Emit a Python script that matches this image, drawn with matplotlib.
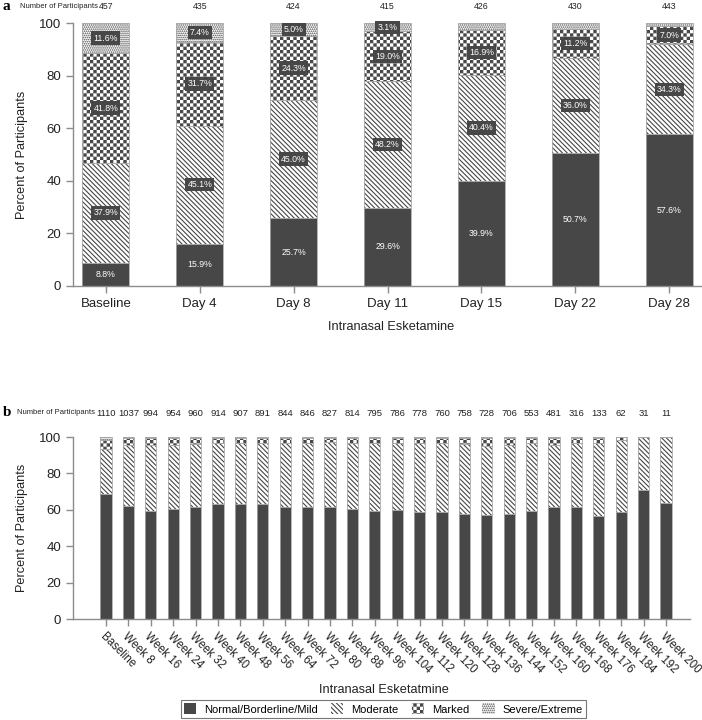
#!/usr/bin/env python3
import matplotlib
matplotlib.use("Agg")
import matplotlib.hatch as mhatch
import matplotlib.pyplot as plt
from matplotlib.patches import Patch
from matplotlib.path import Path
from matplotlib.transforms import blended_transform_factory

plt.rcParams["font.family"] = ["Liberation Sans", "DejaVu Sans"]
plt.rcParams["hatch.linewidth"] = 0.8

DARK = "#474747"
EDGE = "#a8a8a8"
AXIS = "#8c8c8c"
TXT = "#222222"

# ---- panel a: first 28 days ----
visits_a = ["Baseline", "Day 4", "Day 8", "Day 11", "Day 15", "Day 22", "Day 28"]
n_a = [457, 435, 424, 415, 426, 430, 443]
normal_a = [8.8, 15.9, 25.7, 29.6, 39.9, 50.7, 57.6]
moderate_a = [37.9, 45.1, 45.0, 48.2, 40.4, 36.0, 34.3]
marked_a = [41.8, 31.7, 24.3, 19.0, 16.9, 11.2, 7.0]
severe_a = [11.6, 7.4, 5.0, 3.1, 2.8, 2.1, 1.1]

# ---- panel b: long term ----
visits_b = ["Baseline"] + [f"Week {w}" for w in range(8, 201, 8)]
n_b = [1110, 1037, 994, 954, 960, 914, 907, 891, 844, 846, 827, 814, 795,
       786, 778, 760, 758, 728, 706, 553, 481, 316, 133, 62, 31, 11]
normal_b = [68.8, 62.3, 59.3, 60.4, 61.5, 63.4, 63.4, 63.0, 61.4, 61.5, 61.8,
            60.6, 59.3, 60.1, 58.9, 58.9, 57.7, 57.3, 58.0, 59.3, 61.4, 61.8,
            56.9, 58.6, 71.2, 63.8]
moderate_b = [24.5, 33.5, 36.1, 35.2, 34.6, 33.3, 33.3, 33.5, 35.1, 35.5, 35.6,
              36.4, 37.2, 36.6, 37.8, 37.8, 38.4, 37.8, 37.4, 37.4, 34.2, 35.2,
              40.1, 39.8, 28.8, 36.2]
marked_b = [5.3, 3.6, 3.8, 3.7, 3.3, 2.8, 2.9, 2.9, 3.0, 2.6, 2.1, 2.6, 3.0,
            2.9, 2.9, 2.8, 3.5, 4.3, 4.0, 2.8, 3.8, 2.4, 2.2, 1.6, 0.0, 0.0]
severe_b = [1.4, 0.6, 0.8, 0.7, 0.6, 0.5, 0.4, 0.6, 0.5, 0.4, 0.5, 0.4, 0.5,
            0.4, 0.4, 0.5, 0.4, 0.6, 0.6, 0.5, 0.6, 0.6, 0.8, 0.0, 0.0, 0.0]

categories = ["Normal/Borderline/Mild", "Moderate", "Marked", "Severe/Extreme"]


class CheckerHatch(mhatch.HatchPatternBase):
    """Checkerboard hatch, used for the 'o' character."""

    def __init__(self, hatch, density):
        self.num_cells = hatch.count("o") * 6
        self.num_vertices = (self.num_cells ** 2 // 2) * 5

    def set_vertices_and_codes(self, vertices, codes):
        n = self.num_cells
        s = 1.0 / n
        shrink = plt.rcParams["hatch.linewidth"] / 72.0 / 2.0
        k = 0
        for r in range(n):
            for c in range(n):
                if (r + c) % 2:
                    continue
                x0, y0 = c * s + shrink, r * s + shrink
                x1, y1 = (c + 1) * s - shrink, (r + 1) * s - shrink
                vertices[k:k + 5] = [(x0, y0), (x1, y0), (x1, y1), (x0, y1), (x0, y0)]
                codes[k:k + 5] = [Path.MOVETO, Path.LINETO, Path.LINETO,
                                  Path.LINETO, Path.CLOSEPOLY]
                k += 5


mhatch._hatch_types = [t for t in mhatch._hatch_types
                       if t is not mhatch.SmallCircles] + [CheckerHatch]

styles = [
    dict(facecolor=DARK, edgecolor=DARK, hatch=None),
    dict(facecolor="white", edgecolor=DARK, hatch="\\" * 7),
    dict(facecolor="white", edgecolor=DARK, hatch="o" * 5),
    dict(facecolor="white", edgecolor="#4a4a4a", hatch="." * 8),
]


def draw_stack(ax, series, width):
    x = list(range(len(series[0])))
    bottom = [0.0] * len(x)
    for vals, st in zip(series, styles):
        ax.bar(x, vals, width, bottom=bottom, facecolor=st["facecolor"],
               edgecolor=st["edgecolor"], hatch=st["hatch"], linewidth=0)
        ax.bar(x, vals, width, bottom=bottom, fill=False, edgecolor=EDGE,
               linewidth=0.6)
        bottom = [b + v for b, v in zip(bottom, vals)]
    return x


def style_axes(ax):
    for side in ("top", "right"):
        ax.spines[side].set_visible(False)
    for side in ("left", "bottom"):
        ax.spines[side].set_color(AXIS)
        ax.spines[side].set_linewidth(1.0)
    ax.tick_params(colors=AXIS, labelcolor=TXT, length=5, width=1.0)
    ax.set_ylim(0, 100)
    ax.set_yticks([0, 20, 40, 60, 80, 100])
    ax.tick_params(axis="y", labelsize=9.5)


fig = plt.figure(figsize=(7.02, 7.2), dpi=100)

# panel a
ax_a = fig.add_axes([0.104, 0.603, 0.896, 0.365])
series_a = [normal_a, moderate_a, marked_a, severe_a]
xa = draw_stack(ax_a, series_a, 0.5)
style_axes(ax_a)
ax_a.set_xlim(-0.35, 6.35)
ax_a.set_xticks(xa)
ax_a.set_xticklabels(visits_a, fontsize=9.5)
ax_a.tick_params(axis="x", pad=4)

for i in xa:
    base = 0.0
    for k, vals in enumerate(series_a):
        v = vals[i]
        mid = base + v / 2
        base += v
        if v < 3:
            continue
        label = f"{v:.1f}%"
        if k == 0:
            ax_a.text(i, mid, label, ha="center", va="center", fontsize=6.3,
                      color="white")
        else:
            ax_a.text(i, mid, label, ha="center", va="center", fontsize=6.3,
                      color="white",
                      bbox=dict(boxstyle="square,pad=0.25", facecolor=DARK,
                                edgecolor="none"))

tr_a = blended_transform_factory(ax_a.transData, ax_a.transAxes)
for i, n in zip(xa, n_a):
    ax_a.text(i, 1.063, str(n), transform=tr_a, ha="center", va="center",
              fontsize=6.3, color=TXT)
fig.text(0.029, 1 - 7 / 720, "Number of Participants", ha="left", va="center",
         fontsize=5.5, color=TXT)
fig.text(0.004, 1 - 7 / 720, "a", ha="left", va="center", fontsize=11,
         fontweight="bold", family="Liberation Serif")
fig.text(0.031, 0.785, "Percent of Participants", rotation=90, ha="center",
         va="center", fontsize=9.2, color=TXT)
fig.text(0.557, 1 - 327 / 720, "Intranasal Esketamine", ha="center",
         va="center", fontsize=9.2, color=TXT)

# panel b
ax_b = fig.add_axes([0.104, 0.140, 0.879, 0.253])
series_b = [normal_b, moderate_b, marked_b, severe_b]
xb = draw_stack(ax_b, series_b, 0.5)
style_axes(ax_b)
ax_b.set_xlim(-1.47, 26.07)
ax_b.set_xticks(xb)
ax_b.set_xticklabels(visits_b, fontsize=8.3, rotation=-45, ha="left",
                     va="top", rotation_mode="anchor")

tr_b = blended_transform_factory(ax_b.transData, ax_b.transAxes)
for i, n in zip(xb, n_b):
    ax_b.text(i, 1.13, str(n), transform=tr_b, ha="center", va="center",
              fontsize=6.8, color=TXT)
fig.text(0.136, 1 - 413 / 720, "Number of Participants", ha="right",
         va="center", fontsize=5.5, color=TXT)
fig.text(0.004, 1 - 412 / 720, "b", ha="left", va="center", fontsize=11,
         fontweight="bold", family="Liberation Serif")
fig.text(0.031, 1 - 528 / 720, "Percent of Participants", rotation=90,
         ha="center", va="center", fontsize=9.2, color=TXT)
fig.text(0.547, 1 - 690 / 720, "Intranasal Esketatmine", ha="center",
         va="center", fontsize=9.2, color=TXT)

handles = [Patch(facecolor=st["facecolor"], edgecolor=st["edgecolor"],
                 hatch=st["hatch"], linewidth=0) for st in styles]
leg = fig.legend(handles, categories, loc="center",
                 bbox_to_anchor=(0.546, 1 - 709 / 720), ncol=4, fontsize=8,
                 frameon=True, fancybox=False, edgecolor="#555555",
                 handlelength=1.1, handleheight=1.1, handletextpad=0.7,
                 columnspacing=1.2, borderpad=0.3)
leg.get_frame().set_linewidth(0.8)

fig.savefig("out.png", dpi=100)
plt.close(fig)
